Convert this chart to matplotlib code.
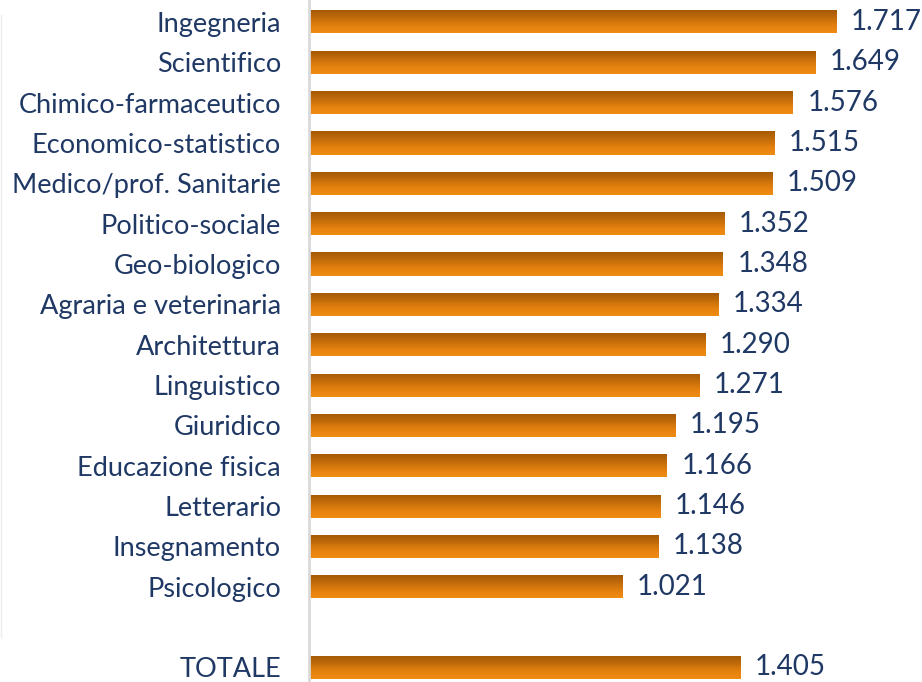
import numpy as np
import matplotlib
matplotlib.use('Agg')
import matplotlib.pyplot as plt
from matplotlib.colors import LinearSegmentedColormap

categories = ['Ingegneria', 'Scientifico', 'Chimico-farmaceutico', 'Economico-statistico',
              'Medico/prof. Sanitarie', 'Politico-sociale', 'Geo-biologico',
              'Agraria e veterinaria', 'Architettura', 'Linguistico', 'Giuridico',
              'Educazione fisica', 'Letterario', 'Insegnamento', 'Psicologico']
values = [1.717, 1.649, 1.576, 1.515, 1.509, 1.352, 1.348, 1.334, 1.290,
          1.271, 1.195, 1.166, 1.146, 1.138, 1.021]
total_label = 'TOTALE'
total_value = 1.405

labels = categories + [total_label]
vals = values + [total_value]
pos = list(range(len(categories))) + [len(categories) + 1]

text_color = '#1F3864'
plt.rcParams['font.family'] = ['Lato', 'DejaVu Sans']

fig = plt.figure(figsize=(9.22, 6.82), dpi=100)
ax = fig.add_axes([0.335, 0.0, 0.655, 1.0])

# gradient fill: dark brown on top, orange at the bottom (drawn as thin strips)
cmap = LinearSegmentedColormap.from_list('barfill', ['#A65A06', '#C26C0A', '#E3800E', '#EF8B12'])
bar_h = 0.57
n_strips = 24
strip_h = bar_h / n_strips
for i in range(n_strips):
    off = -bar_h / 2 + (i + 0.5) * strip_h  # i = 0 is the top strip (y axis inverted)
    ax.barh([p + off for p in pos], vals, height=strip_h * 1.05,
            color=cmap(i / (n_strips - 1)), edgecolor='none', zorder=2)

for p, v in zip(pos, vals):
    ax.text(v + 0.045, p, f'{v:.3f}', va='center', ha='left',
            fontsize=20, color=text_color)

ax.set_xlim(0, 1.964)
ax.set_ylim(16.36, -0.544)
ax.set_yticks(pos)
ax.set_yticklabels(labels, fontsize=19.5, color=text_color)
ax.tick_params(axis='y', length=0, pad=20)
ax.set_xticks([])
for s in ['top', 'right', 'bottom']:
    ax.spines[s].set_visible(False)
ax.spines['left'].set_color('#D9D9D9')
ax.spines['left'].set_linewidth(2)

# faint frame line on the left
fig.add_artist(plt.Line2D([0.001, 0.001], [0.066, 0.978], color='#EDEDED', lw=1))

fig.savefig('out.png', dpi=100)
